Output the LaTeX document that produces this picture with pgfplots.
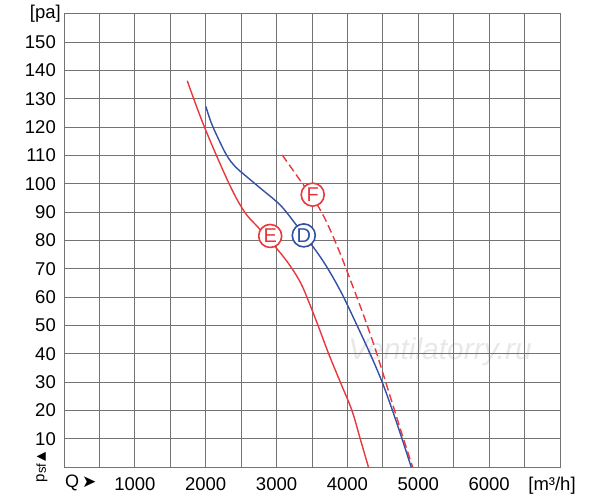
\documentclass[border=0pt]{standalone}
\usepackage{fontspec}
\setmainfont{Liberation Sans}
\newfontfamily\dejavu{DejaVu Sans}
\usepackage{pgfplots}
\pgfplotsset{compat=1.18}
\definecolor{cred}{RGB}{232,56,60}
\definecolor{cblue}{RGB}{50,80,165}
\definecolor{cgrid}{RGB}{115,115,115}
\begin{document}
\begin{tikzpicture}
\path[use as bounding box] (0,0) rectangle (600bp,503bp);
\node[text=black!9, font=\fontsize{30bp}{34bp}\selectfont\itshape] at (440bp,151bp) {Ventilatorry.ru};
\begin{axis}[
  at={(64bp,36bp)}, anchor=south west,
  scale only axis, width=496bp, height=453bp,
  xmin=0, xmax=7000, ymin=0, ymax=160,
  xtick={1000,2000,3000,4000,5000,6000},
  minor xtick={500,1500,2500,3500,4500,5500,6500},
  ytick={10,20,...,150},
  extra y ticks={160}, extra y tick labels={[pa]},
  extra x ticks={7000}, extra x tick labels={[m³/h]},
  extra y tick style={yticklabel style={xshift=5bp}},
  extra x tick style={xticklabel style={xshift=-8bp}},
  major tick length=0pt, minor tick length=0pt,
  grid=both,
  major grid style={cgrid, line width=1bp},
  minor grid style={cgrid, line width=1bp},
  axis line style={cgrid, line width=1bp},
  /pgf/number format/assume math mode=true,
  /pgf/number format/1000 sep={},
  tick label style={font=\fontsize{18.5bp}{22bp}\selectfont, inner sep=0pt},
  yticklabel style={anchor=east, xshift=-8bp},
  xticklabel style={anchor=north, yshift=-10bp},
  clip=false,
]
\addplot[cred, line width=1.4bp, smooth, tension=0.6] coordinates {
 (1740,136.4) (1980,120.2) (2331,100) (2551,90) (2752,84.3) (3057,75.5)
 (3220,70) (3350,64.5) (3460,58) (3585,50) (3735,40) (3899,30) (4063,20) (4180,10) (4296,0)
};
\addplot[cblue, line width=1.4bp, smooth, tension=0.6] coordinates {
 (2003,127.3) (2060,122.8) (2120,119.1) (2200,114.8) (2280,110.8) (2360,107.7)
 (2450,105.3) (2518,103.8) (2799,97.9) (2950,94.8) (3100,91.2) (3384,82)
 (3520,77.6) (3660,72.6) (3800,66.8) (3940,60.3) (4130,50.3) (4320,40)
 (4490,30) (4635,20) (4770,10) (4900,0)
};
\addplot[cred, line width=1.4bp, smooth, tension=0.6, dash pattern=on 8bp off 4bp] coordinates {
 (3080,110.2) (3360,100.3) (3540,94) (3700,86.8) (3880,76.5) (4050,65.5)
 (4200,55.5) (4300,48.5) (4415,40) (4540,30) (4665,20) (4790,10) (4920,0)
};
\node[circle, draw=cred, line width=1.6bp, fill=white, minimum size=23bp, inner sep=0pt,
  text=cred, font=\fontsize{20bp}{22bp}\selectfont] at (axis cs:2910,81.6) {E};
\node[circle, draw=cblue, line width=1.6bp, fill=white, minimum size=23bp, inner sep=0pt,
  text=cblue, font=\fontsize{20bp}{22bp}\selectfont] at (axis cs:3384,81.8) {D};
\node[circle, draw=cred, line width=1.6bp, fill=white, minimum size=23bp, inner sep=0pt,
  text=cred, font=\fontsize{20bp}{22bp}\selectfont] at (axis cs:3510,96.2) {F};
\end{axis}
\node[anchor=west, inner sep=0pt, font=\fontsize{18bp}{20bp}\selectfont] at (65bp,20bp) {Q\,{\dejavu\fontsize{17bp}{19bp}\selectfont ➤}};
\node[rotate=90, inner sep=0pt, font=\fontsize{15bp}{17bp}\selectfont] at (42bp,36bp) {p\raisebox{-1.5bp}{\fontsize{13bp}{15bp}\selectfont sf}\,{\dejavu\fontsize{12bp}{14bp}\selectfont ▲}};
\end{tikzpicture}
\end{document}
